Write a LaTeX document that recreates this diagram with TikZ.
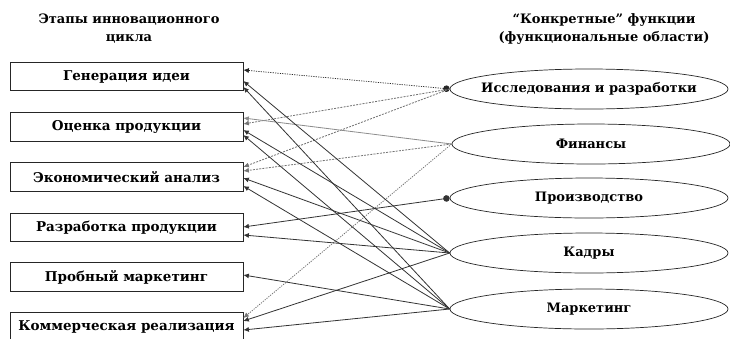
\documentclass[tikz,border=0pt]{standalone}
\usepackage{fontspec}
\setmainfont{DejaVu Serif}
\usetikzlibrary{arrows.meta,shapes.geometric}
\begin{document}
\begin{tikzpicture}[x=1pt,y=-1pt,
  stagebox/.style={draw=black!85,line width=0.7pt,rectangle,minimum width=233pt,minimum height=28.5pt,inner sep=0pt,font=\fontsize{13.5}{15}\selectfont\bfseries},
  funcell/.style={draw=black!85,line width=0.7pt,ellipse,minimum width=278pt,minimum height=40pt,inner sep=0pt,font=\fontsize{13}{15}\selectfont\bfseries},
  headtext/.style={align=center,font=\fontsize{13}{18}\selectfont\bfseries},
  solidlink/.style={draw=black!80,line width=0.8pt,-{Latex[length=5.5pt,width=5pt]}},
  lightlink/.style={draw=black!45,line width=0.8pt,-{Latex[length=5.5pt,width=5pt]}},
  dashlink/.style={draw=black!55,line width=0.8pt,dash pattern=on 2pt off 1.2pt,-{Latex[length=5.5pt,width=5pt]}},
  dotlink/.style={draw=black!85,line width=0.7pt,dash pattern=on 1.2pt off 1.2pt,-{Latex[length=5.5pt,width=5pt]}}
]
\useasboundingbox (0,0) rectangle (730,338);
\clip (0,0) rectangle (730,338);
\fill[white] (0,0) rectangle (730,338);

\node[headtext] (hl) at (129,29) {Этапы инновационного\\цикла};
\node[headtext] (hr) at (604,29) {“Конкретные” функции\\(функциональные области)};

\node[stagebox] (s1) at (126.5,76.5) {Генерация идеи};
\node[stagebox] (s2) at (126.5,127) {Оценка продукции};
\node[stagebox] (s3) at (126.5,177) {Экономический анализ};
\node[stagebox] (s4) at (126.5,227.5) {Разработка продукции};
\node[stagebox] (s5) at (126.5,277) {Пробный маркетинг};
\node[stagebox] (s6) at (126.5,326.5) {Коммерческая реализация};

\node[funcell] (f1) at (589,89) {\makebox[0pt]{Исследования и разработки}};
\node[funcell] (f2) at (591,144) {Финансы};
\node[funcell] (f3) at (589,198) {Производство};
\node[funcell] (f4) at (589,253) {Кадры};
\node[funcell] (f5) at (589,309) {Маркетинг};

% Исследования и разработки
\draw[dotlink,{Circle[length=6.5pt]}-{Latex[length=5.5pt,width=5pt]}] (f1.west) -- ([yshift=6.5pt]s1.east);
\draw[dashlink] (f1.west) -- ([yshift=3pt]s2.east);
\draw[dashlink] (f1.west) -- ([yshift=10pt]s3.east);
% Финансы
\draw[lightlink] (f2.west) -- ([yshift=9pt]s2.east);
\draw[dashlink] (f2.west) -- ([yshift=6pt]s3.east);
\draw[dashlink,dash pattern=on 1.2pt off 1.2pt] (f2.west) -- ([yshift=8.5pt]s6.east);
% Производство
\draw[solidlink,{Circle[length=6.5pt]}-{Latex[length=5.5pt,width=5pt]}] (f3.west) -- ([yshift=0.5pt]s4.east);
% Кадры
\draw[solidlink] (f4.west) -- ([yshift=-4.5pt]s1.east);
\draw[solidlink] (f4.west) -- ([yshift=-3pt]s2.east);
\draw[solidlink] (f4.west) -- ([yshift=-1pt]s3.east);
\draw[solidlink] (f4.west) -- ([yshift=-7.5pt]s4.east);
\draw[solidlink] (f4.west) -- ([yshift=5.5pt]s6.east);
% Маркетинг
\draw[solidlink] (f5.west) -- ([yshift=-10.5pt]s1.east);
\draw[solidlink] (f5.west) -- ([yshift=-8pt]s2.east);
\draw[solidlink] (f5.west) -- ([yshift=-9pt]s3.east);
\draw[solidlink] (f5.west) -- ([yshift=2pt]s5.east);
\draw[solidlink] (f5.west) -- ([yshift=-3.5pt]s6.east);
\end{tikzpicture}
\end{document}
